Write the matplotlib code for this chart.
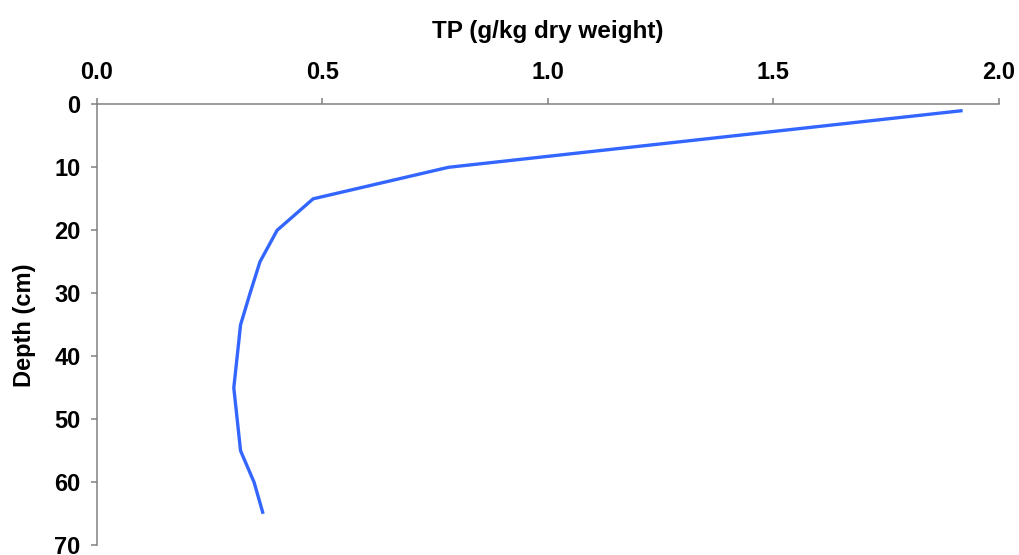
import matplotlib
matplotlib.use("Agg")
import matplotlib.pyplot as plt

depth_cm = [1, 10, 15, 20, 25, 30, 35, 45, 55, 60, 65]
tp_g_per_kg = [1.92, 0.78, 0.48, 0.40, 0.362, 0.340, 0.319, 0.304, 0.319, 0.349, 0.369]
x_ticks = [0.0, 0.5, 1.0, 1.5, 2.0]
x_ticklabels = ["0.0", "0.5", "1.0", "1.5", "2.0"]
y_ticks = [0, 10, 20, 30, 40, 50, 60, 70]

plt.rcParams['font.family'] = ['Liberation Sans', 'DejaVu Sans']

fig = plt.figure(figsize=(10.19, 5.55), dpi=100)
ax = fig.add_axes([96.7 / 1019, 1 - 545.3 / 555, (998.7 - 96.7) / 1019, (545.3 - 104.3) / 555])

ax.plot(tp_g_per_kg, depth_cm, color='#3366ff', lw=2.4, solid_capstyle='butt')

ax.set_xlim(0, 2.0)
ax.set_ylim(70, 0)
ax.xaxis.tick_top()
ax.xaxis.set_label_position('top')
ax.set_xticks(x_ticks)
ax.set_xticklabels(x_ticklabels)
ax.set_yticks(y_ticks)

for s in ['right', 'bottom']:
    ax.spines[s].set_visible(False)
for s in ['left', 'top']:
    ax.spines[s].set_color('#808080')
    ax.spines[s].set_linewidth(1.1)

ax.tick_params(axis='both', direction='out', length=4.5, width=1.1, color='#808080',
               labelsize=17)
ax.tick_params(axis='x', pad=10)
ax.tick_params(axis='y', pad=7)
for lab in ax.get_xticklabels() + ax.get_yticklabels():
    lab.set_fontweight('bold')

ax.set_xlabel('TP (g/kg dry weight)', fontsize=17.5, fontweight='bold', labelpad=17)
ax.set_ylabel('Depth (cm)', fontsize=17, fontweight='bold', labelpad=13)

fig.savefig('out.png', dpi=100)
